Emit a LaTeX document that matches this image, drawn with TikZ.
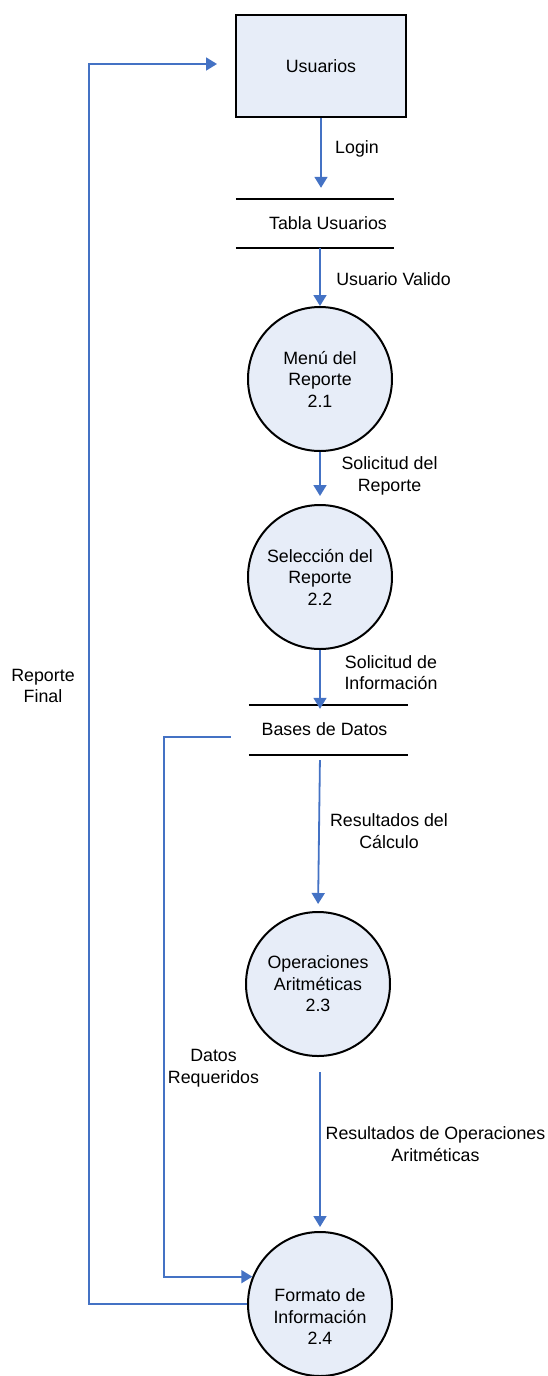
\documentclass[tikz,border=0pt]{standalone}
\usepackage{fontspec}
\setmainfont{Liberation Sans}
\usetikzlibrary{arrows.meta}
\definecolor{flowblue}{RGB}{68,114,196}
\definecolor{procfill}{RGB}{231,237,248}
\begin{document}
\begin{tikzpicture}[x=1pt,y=-1pt,
  font=\fontsize{17.8pt}{21.5pt}\selectfont,
  flow/.style={draw=flowblue, line width=1.8pt, -{Triangle[length=11pt,width=13pt]}},
  entity/.style={draw=black, line width=2pt, fill=procfill, rectangle,
    minimum width=170pt, minimum height=102pt, inner sep=0pt},
  process/.style={draw=black, line width=2pt, fill=procfill, circle,
    minimum size=144pt, inner sep=0pt, align=center},
  store/.style={rectangle, inner sep=0pt},
  storeline/.style={draw=black, line width=2pt},
  lbl/.style={align=center, inner sep=0pt}]
\useasboundingbox (0,0) rectangle (548,1376);

% external entity
\node[entity] (usr) at (321,66) {Usuarios};

% data stores: text plus two horizontal rules
\node[store, minimum width=158pt, minimum height=49pt] (tabla) at (315,223.5) {};
\node[lbl] (tablatxt) at (328,223) {Tabla Usuarios};
\draw[storeline] (tabla.north west) -- (tabla.north east)
                 (tabla.south west) -- (tabla.south east);

\node[store, minimum width=159pt, minimum height=50pt] (bases) at (328.5,730) {};
\node[lbl] (basestxt) at (324.5,729) {Bases de Datos};
\draw[storeline] (bases.north west) -- (bases.north east)
                 (bases.south west) -- (bases.south east);

% processes
\node[process] (m21) at (320,379) {Menú del\\Reporte\\2.1};
\node[process] (m22) at (320,577) {Selección del\\Reporte\\2.2};
\node[process] (o23) at (318,984) {Operaciones\\Aritméticas\\2.3};
\node[process, label={[lbl, yshift=-13pt]center:Formato de\\Información\\2.4}] (f24) at (320,1304) {};

% data flows
\draw[flow, shorten >=11pt] (usr.south) -- (usr.south |- tabla.north);
\draw[flow] (tabla.south -| m21) -- (m21.north);
\draw[flow, shorten >=8pt] (m21.south) -- (m22.north);
\draw[flow, shorten >=-4pt] (m22.south) -- (bases.north -| m22);
\draw[flow, shorten <=5pt, shorten >=7pt] (bases.south -| m22) -- (o23.north);
\draw[flow, shorten <=15pt, shorten >=4pt] (o23.south -| f24) -- (f24.north);
\draw[flow] ([xshift=-18pt,yshift=-7pt]bases.west) -- ++(-67,0) |- (f24.158);
\draw[flow, shorten >=18pt] (f24.west) -- ++(-158,0) |- ([yshift=2pt]usr.west);

% flow labels
\node[lbl] (lLogin) at (357,149) {Login};
\node[lbl] (lValido) at (393.5,279) {Usuario Valido};
\node[lbl] (lSolRep) at (389.5,476) {Solicitud del\\Reporte};
\node[lbl] (lSolInf) at (391,672.5) {Solicitud de\\Información};
\node[lbl] (lResCalc) at (389,831) {Resultados del\\Cálculo};
\node[lbl] (lDatos) at (213.5,1068) {Datos\\Requeridos};
\node[lbl] (lResOp) at (435.5,1144) {Resultados de Operaciones\\Aritméticas};
\node[lbl] (lFinal) at (43,686) {Reporte\\Final};
\end{tikzpicture}
\end{document}
